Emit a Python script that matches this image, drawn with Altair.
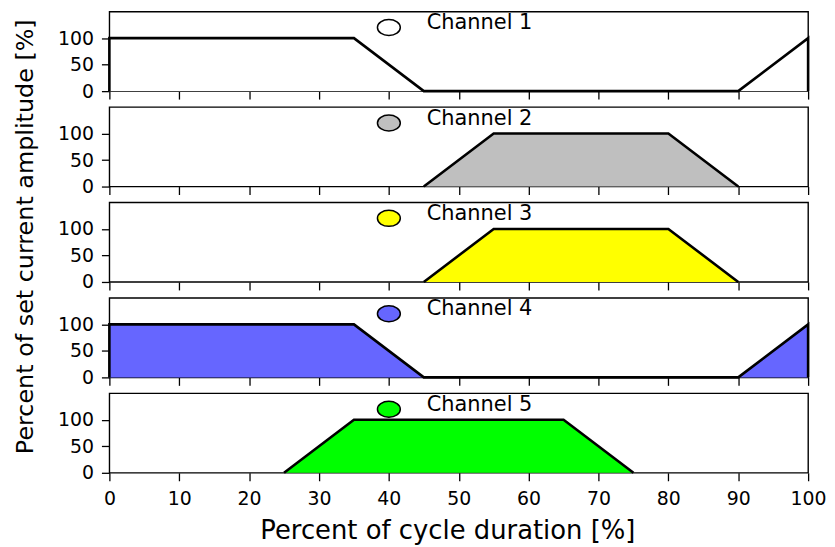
import altair as alt
import pandas as pd

# ---- data ----
x_ticks = list(range(0, 101, 10))
y_ticks = [0, 50, 100]
channels = ["Channel 1", "Channel 2", "Channel 3", "Channel 4", "Channel 5"]
fills = ["#ffffff", "#bfbfbf", "#ffff00", "#6666ff", "#00ff00"]
ch_x = [
    [0, 0, 35, 45, 90, 100, 100],
    [45, 55, 80, 90],
    [45, 55, 80, 90],
    [0, 0, 35, 45, 90, 100, 100],
    [25, 35, 65, 75],
]
ch_y = [
    [0, 100, 100, 0, 0, 100, 0],
    [0, 100, 100, 0],
    [0, 100, 100, 0],
    [0, 100, 100, 0, 0, 100, 0],
    [0, 100, 100, 0],
]
marker_x = [40, 40, 40, 40, 40]
marker_y = [120, 120, 120, 120, 120]
label_x = [45, 45, 45, 45, 45]
label_y = [128, 128, 128, 128, 128]

FONT = "DejaVu Sans"
ELLIPSE = "M -1 0 A 1 0.7 0 1 0 1 0 A 1 0.7 0 1 0 -1 0 Z"

panels = []
n = len(channels)
for i in range(n):
    last = i == n - 1
    poly = pd.DataFrame({"x": ch_x[i], "y": ch_y[i], "i": list(range(len(ch_x[i])))})
    mk = pd.DataFrame({"x": [marker_x[i]], "y": [marker_y[i]]})
    lb = pd.DataFrame({"x": [label_x[i]], "y": [label_y[i]], "t": [channels[i]]})

    x_axis = alt.Axis(
        values=x_ticks,
        labels=last,
        labelFlush=False,
        title="Percent of cycle duration [%]" if last else None,
        labelPadding=9,
        titlePadding=9,
        titleFontSize=26,
        titleX=340,
    )
    y_axis = alt.Axis(
        values=y_ticks,
        title="Percent of set current amplitude [%]" if i == 2 else None,
        labelPadding=8,
        titlePadding=20,
        titleFontSize=24,
        titleY=34,
    )
    xs = alt.Scale(domain=[0, 100], nice=False, zero=False)
    ys = alt.Scale(domain=[0, 150], nice=False)

    area = alt.Chart(poly).mark_area(color=fills[i], opacity=1).encode(
        x=alt.X("x:Q", scale=xs, axis=x_axis),
        y=alt.Y("y:Q", scale=ys, axis=y_axis),
    )
    line = alt.Chart(poly).mark_line(color="black", strokeWidth=2.6).encode(
        x=alt.X("x:Q", scale=xs, axis=x_axis),
        y=alt.Y("y:Q", scale=ys, axis=y_axis),
        order=alt.Order("i:Q"),
    )
    marker = alt.Chart(mk).mark_point(
        shape=ELLIPSE, size=529, filled=True, fill=fills[i], stroke="black",
        strokeWidth=1.5, opacity=1, fillOpacity=1
    ).encode(
        x=alt.X("x:Q", scale=xs, axis=x_axis),
        y=alt.Y("y:Q", scale=ys, axis=y_axis),
    )
    text = alt.Chart(lb).mark_text(
        align="left", baseline="middle", font=FONT, fontSize=21, color="black", dx=3
    ).encode(
        x=alt.X("x:Q", scale=xs, axis=x_axis),
        y=alt.Y("y:Q", scale=ys, axis=y_axis),
        text="t:N",
    )

    panels.append(
        alt.layer(area, line, marker, text).properties(width=703, height=80)
    )

chart = alt.vconcat(*panels, spacing=16, bounds="flush").configure_view(
    stroke="black", strokeWidth=1.4
).configure_axis(
    grid=False,
    domain=False,
    tickColor="black",
    tickSize=8,
    tickWidth=1.3,
    labelFont=FONT,
    labelFontSize=19,
    labelColor="black",
    titleFont=FONT,
    titleFontWeight="normal",
    titleColor="black",
).properties(
    padding={"left": 5, "top": 1, "right": 0, "bottom": 0}
)

chart.save("out.html", embed_options={"renderer": "svg", "actions": False})
